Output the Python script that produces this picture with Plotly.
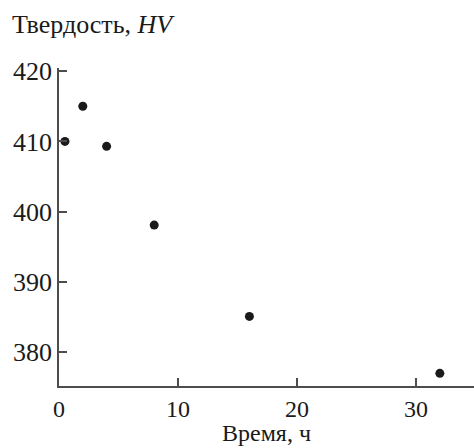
import plotly.graph_objects as go

time_h = [0.5, 2, 4, 8, 16, 32]
hardness_hv = [410, 415, 409.3, 398.1, 385.1, 377]
x_ticks = [0, 10, 20, 30]
y_ticks = [380, 390, 400, 410, 420]

FONT = "Liberation Serif, Times New Roman, serif"
AX = "#4d4d4d"
TXT = "#1a1a1a"
FS = 26

fig = go.Figure()
fig.add_trace(go.Scatter(
    x=time_h, y=hardness_hv, mode="markers",
    marker=dict(size=9, color=TXT, line=dict(width=0)),
    cliponaxis=False, showlegend=False,
))

axis_common = dict(ticks="inside", ticklen=8, tickwidth=1.5, tickcolor=AX,
                   showline=True, linecolor=AX, linewidth=1.5, showgrid=False,
                   zeroline=False)

fig.update_layout(
    width=474, height=448,
    margin=dict(l=59, r=0, t=68, b=62),
    paper_bgcolor="white", plot_bgcolor="white",
    font=dict(family=FONT, size=FS, color=TXT),
    title=dict(text="Твердость, <i>HV</i>", x=12/474, xanchor="left",
               y=1 - 24/448, yanchor="middle", font=dict(family=FONT, size=FS, color=TXT)),
    xaxis=dict(range=[0, 34.87], tickvals=x_ticks,
               tickfont=dict(family=FONT, size=24, color=TXT), **axis_common),
    yaxis=dict(range=[375.2, 420.45], tickvals=y_ticks,
               tickfont=dict(family=FONT, size=FS, color=TXT), **axis_common),
    annotations=[dict(text="Время, ч", xref="paper", yref="paper", x=0.5, y=0,
                      xanchor="center", yanchor="middle", yshift=-47, showarrow=False,
                      font=dict(family=FONT, size=24, color=TXT))],
)

fig.write_html("out.html", config={"displayModeBar": False},
               post_script="document.body.style.margin='0';document.body.style.overflow='hidden';")
